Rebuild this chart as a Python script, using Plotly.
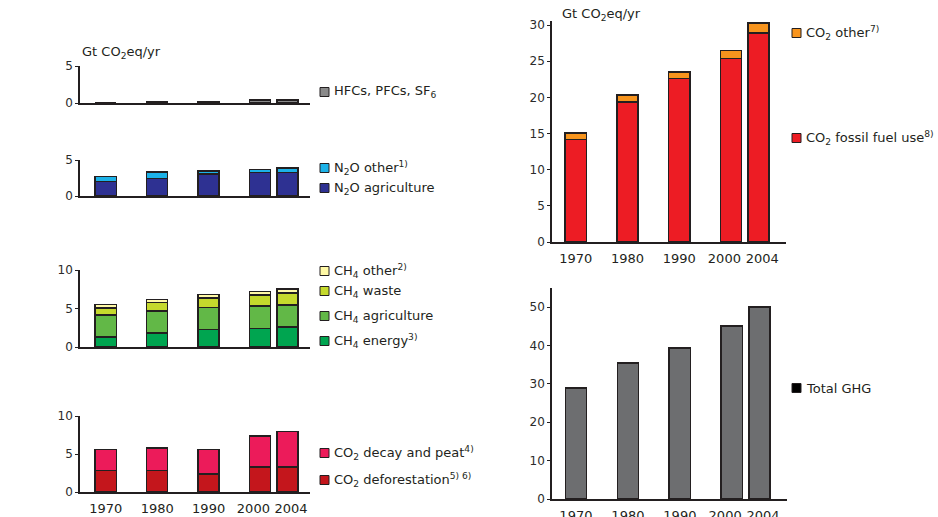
import plotly.graph_objects as go

# ---------------- data (Gt CO2-eq / yr) ----------------
years = ["1970", "1980", "1990", "2000", "2004"]

hfc_pfc_sf6 = [0.0, 0.2, 0.2, 0.4, 0.4]
n2o_agriculture = [2.0, 2.45, 3.05, 3.25, 3.25]
n2o_other = [0.7, 0.85, 0.45, 0.45, 0.65]
ch4_energy = [1.3, 1.85, 2.25, 2.4, 2.6]
ch4_agriculture = [2.85, 2.85, 2.85, 2.9, 2.85]
ch4_waste = [0.9, 1.1, 1.25, 1.45, 1.55]
ch4_other = [0.45, 0.4, 0.45, 0.45, 0.55]
co2_deforestation = [2.85, 2.85, 2.35, 3.3, 3.3]
co2_decay_peat = [2.75, 2.95, 3.25, 4.1, 4.65]
co2_fossil = [14.2, 19.35, 22.6, 25.4, 28.9]
co2_other = [0.9, 1.0, 0.9, 1.05, 1.4]
total_ghg = [28.9, 35.5, 39.3, 45.1, 50.0]

# ---------------- layout constants ----------------
W, H = 938, 517
slot = [0, 1, 2, 3, 3.53]              # horizontal slot of each bar (2004 sits close to 2000)
label_slot = [0, 1, 2, 2.87, 3.6]      # year labels are nudged apart so they don't collide
BAR_W = 0.41
FONT = "DejaVu Sans, Liberation Sans, Arial, sans-serif"
INK = "#231f20"
OUTLINE = dict(color=INK, width=1.5)

C = dict(
    hfc="#8a8a8a", n2o_other="#1cb2e8", n2o_agri="#2e3192",
    ch4_other="#fff9a6", ch4_waste="#c5d92d", ch4_agri="#62b847", ch4_energy="#00a550",
    co2_decay="#ec1b5a", co2_defor="#c4161c",
    co2_other="#f7941d", co2_fossil="#ed1c24", total="#6d6e70",
)


def fx(p):
    return p / W


def fy(p):
    return 1 - p / H


panels = [
    dict(series=[(hfc_pfc_sf6, C["hfc"])], xpx=(80, 310), ypx=(66, 103),
         yrange=[0, 5], yticks=[0, 5], xlabels=False, xrange=[-0.5, 3.97]),
    dict(series=[(n2o_agriculture, C["n2o_agri"]), (n2o_other, C["n2o_other"])],
         xpx=(80, 310), ypx=(160, 196), yrange=[0, 5], yticks=[0, 5], xlabels=False,
         xrange=[-0.5, 3.97]),
    dict(series=[(ch4_energy, C["ch4_energy"]), (ch4_agriculture, C["ch4_agri"]),
                 (ch4_waste, C["ch4_waste"]), (ch4_other, C["ch4_other"])],
         xpx=(80, 310), ypx=(270, 347), yrange=[0, 10], yticks=[0, 5, 10], xlabels=False,
         xrange=[-0.5, 3.97]),
    dict(series=[(co2_deforestation, C["co2_defor"]), (co2_decay_peat, C["co2_decay"])],
         xpx=(80, 310), ypx=(416, 492), yrange=[0, 10], yticks=[0, 5, 10], xlabels=True,
         xrange=[-0.5, 3.97]),
    dict(series=[(co2_fossil, C["co2_fossil"]), (co2_other, C["co2_other"])],
         xpx=(552, 786), ypx=(242 - 30.5 * 217 / 30, 242), yrange=[0, 30.5],
         yticks=[0, 5, 10, 15, 20, 25, 30], xlabels=True, xrange=[-0.46, 4.06]),
    dict(series=[(total_ghg, C["total"])], xpx=(552, 787), ypx=(288, 499),
         yrange=[0, 55], yticks=[0, 10, 20, 30, 40, 50], xlabels=True,
         xrange=[-0.46, 4.06]),
]

fig = go.Figure()
layout = dict(
    template="none",
    width=W, height=H, margin=dict(l=0, r=0, t=0, b=0, pad=0),
    paper_bgcolor="white", plot_bgcolor="white",
    barmode="stack", showlegend=False,
    font=dict(family=FONT, color=INK, size=13),
)

for i, p in enumerate(panels, start=1):
    xa = "x" if i == 1 else f"x{i}"
    ya = "y" if i == 1 else f"y{i}"
    for vals, col in p["series"]:
        fig.add_trace(go.Bar(
            x=slot, y=vals, xaxis=xa, yaxis=ya, width=BAR_W,
            marker=dict(color=col, line=OUTLINE), hoverinfo="y",
        ))
    xkey = "xaxis" if i == 1 else f"xaxis{i}"
    ykey = "yaxis" if i == 1 else f"yaxis{i}"
    layout[xkey] = dict(
        domain=[fx(p["xpx"][0]), fx(p["xpx"][1])], anchor=ya, range=p["xrange"],
        automargin=False,
        showline=True, linecolor=INK, linewidth=1.5, showgrid=False, zeroline=False,
        tickmode="array", tickvals=label_slot, ticktext=years, showticklabels=p["xlabels"],
        tickangle=0, ticks="outside", ticklen=4, tickcolor="rgba(0,0,0,0)",
        tickfont=dict(size=13, color=INK), fixedrange=True,
    )
    layout[ykey] = dict(
        domain=[fy(p["ypx"][1]), fy(p["ypx"][0])], anchor=xa, range=p["yrange"],
        automargin=False,
        showline=True, linecolor=INK, linewidth=1.5, showgrid=False, zeroline=False,
        tickmode="array", tickvals=p["yticks"], ticks="outside", ticklen=3,
        tickwidth=1.2, tickcolor=INK, tickfont=dict(size=12, color="#2b2b2b"),
        fixedrange=True,
    )

annotations = [
    dict(text="Gt CO<sub>2</sub>eq/yr", x=fx(80), y=fy(53)),
    dict(text="Gt CO<sub>2</sub>eq/yr", x=fx(560), y=fy(14)),
]
for a in annotations:
    a.update(xref="paper", yref="paper", xanchor="left", yanchor="middle",
             showarrow=False, font=dict(size=13, color=INK))

legend_items = [
    ("HFCs, PFCs, SF<sub>6</sub>", C["hfc"], "L", 92),
    ("N<sub>2</sub>O other<sup>1)</sup>", C["n2o_other"], "L", 168),
    ("N<sub>2</sub>O agriculture", C["n2o_agri"], "L", 188),
    ("CH<sub>4</sub> other<sup>2)</sup>", C["ch4_other"], "L", 271),
    ("CH<sub>4</sub> waste", C["ch4_waste"], "L", 291),
    ("CH<sub>4</sub> agriculture", C["ch4_agri"], "L", 316),
    ("CH<sub>4</sub> energy<sup>3)</sup>", C["ch4_energy"], "L", 341),
    ("CO<sub>2</sub> decay and peat<sup>4)</sup>", C["co2_decay"], "L", 453),
    ("CO<sub>2</sub> deforestation<sup>5) 6)</sup>", C["co2_defor"], "L", 480),
    ("CO<sub>2</sub> other<sup>7)</sup>", C["co2_other"], "R", 33),
    ("CO<sub>2</sub> fossil fuel use<sup>8)</sup>", C["co2_fossil"], "R", 138),
    ("Total GHG", "#000000", "R", 388),
]
shapes = []
for text, col, side, ypx in legend_items:
    x0 = 320 if side == "L" else 792
    shapes.append(dict(type="rect", xref="paper", yref="paper",
                       x0=fx(x0), x1=fx(x0 + 9), y0=fy(ypx + 4.5), y1=fy(ypx - 4.5),
                       fillcolor=col, line=dict(color=INK, width=1)))
    annotations.append(dict(text=text, xref="paper", yref="paper",
                            x=fx(x0 + 12), y=fy(ypx), xanchor="left", yanchor="middle",
                            showarrow=False, font=dict(size=13, color=INK)))

layout["annotations"] = annotations
layout["shapes"] = shapes
fig.update_layout(**layout)

fig.write_html("out.html", config={"displayModeBar": False},
               post_script="document.body.style.margin='0';")
